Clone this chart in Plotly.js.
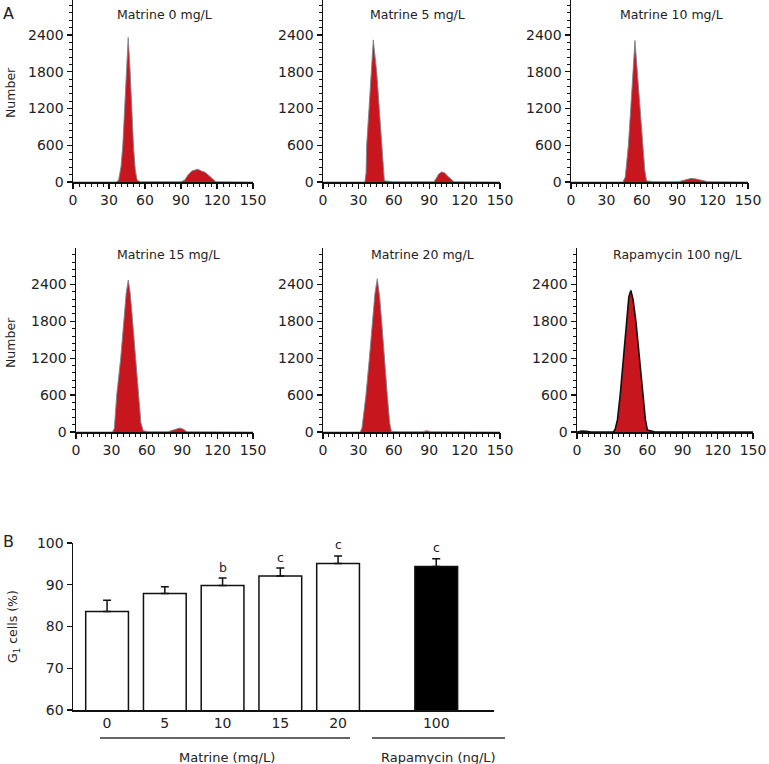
<!DOCTYPE html>
<html>
<head>
<meta charset="utf-8">
<script src="https://cdn.plot.ly/plotly-3.0.1.min.js"></script>
<style>html,body{margin:0;padding:0;background:#fff}#chart{width:769px;height:764px}</style>
</head>
<body>
<div id="chart"></div>
<script>
// ---------- Panel A: DNA content histograms ----------
const panelTitles = ["Matrine 0 mg/L", "Matrine 5 mg/L", "Matrine 10 mg/L",
                     "Matrine 15 mg/L", "Matrine 20 mg/L", "Rapamycin 100 ng/L"];

const m0X  = [0, 36, 38, 40, 41.5, 43, 44.5, 46, 47.5, 49, 50.5, 52, 53.5, 56, 90, 93, 96, 99, 102, 104, 107, 110, 113, 116, 119, 150];
const m0Y  = [0, 0, 30, 250, 600, 1250, 1900, 2360, 1850, 1200, 550, 180, 30, 5, 5, 30, 120, 180, 205, 210, 180, 160, 110, 50, 5, 0];

const m5X  = [0, 35.5, 36.5, 37, 39, 40.7, 42.6, 45.5, 47.8, 49.7, 51, 52, 60, 94, 96, 98, 100.5, 103, 106, 109, 111, 150];
const m5Y  = [0, 0, 150, 600, 1200, 1800, 2320, 1800, 1200, 600, 200, 20, 5, 5, 60, 130, 165, 150, 90, 30, 5, 0];

const m10X = [0, 44, 46, 48.6, 50.6, 52.3, 54.2, 56.2, 58.5, 60.8, 62.5, 64, 70, 91, 95, 99, 102, 106, 110, 116, 150];
const m10Y = [0, 0, 80, 600, 1200, 1800, 2310, 1800, 1200, 600, 200, 20, 5, 5, 25, 50, 60, 50, 30, 5, 0];

const m15X = [0, 31, 32.5, 34.5, 37.9, 40.7, 42.5, 44.3, 46, 48, 50.6, 52.8, 55, 57, 62, 78, 82, 86, 88, 91, 94, 150];
const m15Y = [0, 0, 60, 600, 1200, 1800, 2250, 2470, 2250, 1800, 1200, 600, 150, 20, 5, 5, 30, 60, 65, 45, 5, 0];

const m20X = [0, 31.5, 33, 36.4, 39.3, 41.8, 44, 46, 48, 49.7, 51.9, 54.5, 56.5, 58, 65, 84, 88, 92, 150];
const m20Y = [0, 0, 60, 600, 1200, 1800, 2250, 2490, 2200, 1800, 1200, 600, 150, 10, 5, 5, 20, 5, 0];

const rapX = [0, 4, 8, 12, 31, 32.5, 34.5, 36.8, 39.6, 42.5, 44.2, 45.9, 47.8, 50.2, 53.2, 56.2, 58.3, 60, 66, 150];
const rapY = [0, 15, 10, 0, 0, 40, 200, 600, 1200, 1800, 2200, 2300, 2150, 1800, 1200, 600, 200, 30, 5, 0];

const histX = [m0X, m5X, m10X, m15X, m20X, rapX];
const histY = [m0Y, m5Y, m10Y, m15Y, m20Y, rapY];

const histXStep = 30, histXMinorStep = 5;
const histYStep = 600, histYMinorStep = 120;

// ---------- Panel B: G1 cells (%) ----------
const matrineDoses = ["0", "5", "10", "15", "20"];
const rapaDoses = ["100"];
const g1Mean = [83.6, 87.9, 89.8, 92.1, 95.1, 94.4];
const g1Err  = [2.7, 1.6, 1.8, 1.9, 1.8, 1.8];
const sigLetters = ["", "", "b", "c", "c", "c"];
const groupNames = ["Matrine (mg/L)", "Rapamycin (ng/L)"];

// ---------- layout helpers ----------
const W = 769, H = 764;
const px = v => v / W;
const py = v => 1 - v / H;
const FONT = "DejaVu Sans, Arial, sans-serif";
const RED = "#c8161e";
const TICKFONT = {family: FONT, size: 14, color: "#222"};

// panel pixel boxes [left, right, bottom(zero), top]
const boxes = [
  [73, 253, 182, 0], [323, 500, 182, 0], [571, 748, 182, 0],
  [76, 253, 432, 248], [323, 500, 432, 248], [577, 753, 432, 248]
];
const titlePos = [[164, 14], [417, 14], [671, 14], [168, 255], [422, 255], [677, 255]];

const traces = [];
const layout = {
  width: W, height: H,
  margin: {l: 0, r: 0, t: 0, b: 0},
  paper_bgcolor: "#fff", plot_bgcolor: "rgba(0,0,0,0)",
  showlegend: false,
  font: {family: FONT, size: 13, color: "#222"},
  annotations: [], shapes: []
};

for (let i = 0; i < 6; i++) {
  const n = i + 1;
  const xa = "x" + n, ya = "y" + n;
  const isRapa = i === 5;
  traces.push({
    type: "scatter", mode: "lines",
    x: histX[i], y: histY[i],
    xaxis: xa, yaxis: ya,
    fill: "tozeroy", fillcolor: RED,
    line: {color: isRapa ? "#111" : "#7d858e", width: isRapa ? 1.6 : 0.9}
  });
  const b = boxes[i];
  const yTopVal = Math.min(2990, (b[2] - b[3]) / 147 * 2400);
  const common = {showgrid: false, zeroline: false, fixedrange: true, tickcolor: "#111"};
  layout["xaxis" + n] = Object.assign({
    domain: [px(b[0]), px(b[1])], anchor: ya,
    range: [0, 150], tickmode: "linear", tick0: 0, dtick: histXStep,
    ticks: "outside", ticklen: 5, tickwidth: 1.2,
    showline: true, linecolor: "#111", linewidth: 1.5,
    tickfont: TICKFONT
  }, common);
  layout["yaxis" + n] = Object.assign({
    domain: [py(b[2]), Math.min(1, py(b[3]))], anchor: xa,
    range: [0, yTopVal], tickmode: "linear", tick0: 0, dtick: histYStep,
    ticks: "outside", ticklen: 5, tickwidth: 1.2,
    showline: true, linecolor: "#111", linewidth: 1.5,
    tickfont: TICKFONT
  }, common);
  // minor-tick overlay axes
  const mx = 10 + n, my = 10 + n;
  layout["xaxis" + mx] = Object.assign({
    overlaying: xa, anchor: ya, range: [0, 150], tickmode: "linear", tick0: 0, dtick: histXMinorStep,
    ticks: "outside", ticklen: 3.5, tickwidth: 1, showticklabels: false, showline: false
  }, common);
  layout["yaxis" + my] = Object.assign({
    overlaying: ya, anchor: xa, range: [0, yTopVal], tickmode: "linear", tick0: 0, dtick: histYMinorStep,
    ticks: "outside", ticklen: 3.5, tickwidth: 1, showticklabels: false, showline: false
  }, common);
  traces.push({type: "scatter", mode: "lines", x: [], y: [], xaxis: "x" + mx, yaxis: "y" + my,
               hoverinfo: "skip", showlegend: false});
  layout.annotations.push({
    xref: "paper", yref: "paper", x: px(titlePos[i][0]), y: py(titlePos[i][1]),
    xanchor: "center", yanchor: "middle", showarrow: false,
    text: panelTitles[i], font: {family: FONT, size: 12.5, color: "#222"}
  });
}

// "Number" axis labels
[[10, 93], [10, 343]].forEach(p => layout.annotations.push({
  xref: "paper", yref: "paper", x: px(p[0]), y: py(p[1]), textangle: -90,
  xanchor: "center", yanchor: "middle", showarrow: false,
  text: "Number", font: {family: FONT, size: 12.5, color: "#222"}
}));

// Panel letters
layout.annotations.push({xref: "paper", yref: "paper", x: px(8), y: py(13), showarrow: false,
  xanchor: "center", yanchor: "middle", text: "A", font: {family: FONT, size: 16, color: "#222"}});
layout.annotations.push({xref: "paper", yref: "paper", x: px(8), y: py(541), showarrow: false,
  xanchor: "center", yanchor: "middle", text: "B", font: {family: FONT, size: 16, color: "#222"}});

// ---------- bar chart ----------
const groupGap = 0.7;
const barLabels = matrineDoses.concat(rapaDoses);
const barPos = barLabels.map((_, i) => i < matrineDoses.length ? i : i + groupGap);
traces.push({
  type: "bar", x: barPos, y: g1Mean, base: 0, width: 0.74,
  xaxis: "x7", yaxis: "y7",
  marker: {color: barPos.map((_, i) => i < matrineDoses.length ? "#fff" : "#000"),
           line: {color: "#111", width: 1.5}},
  error_y: {type: "data", symmetric: false, array: g1Err, arrayminus: g1Err.map(() => 0),
            color: "#111", thickness: 1.5, width: 4}
});
layout.xaxis7 = {
  domain: [px(73), px(494)], anchor: "y7",
  range: [-0.59, 6.70], tickvals: barPos, ticktext: barLabels,
  ticks: "", showline: true, linecolor: "#111", linewidth: 1.5,
  showgrid: false, zeroline: false, fixedrange: true,
  tickfont: TICKFONT
};
layout.yaxis7 = {
  domain: [py(710), py(543)], anchor: "x7",
  range: [60, 100], dtick: 10, tick0: 60,
  ticks: "outside", ticklen: 5, tickwidth: 1.2, tickcolor: "#111",
  showline: true, linecolor: "#111", linewidth: 1.5,
  showgrid: false, zeroline: false, fixedrange: true,
  tickfont: TICKFONT
};
barPos.forEach((p, i) => {
  if (!sigLetters[i]) return;
  layout.annotations.push({
    xref: "x7", yref: "y7", x: p, y: g1Mean[i] + g1Err[i], yshift: 11,
    xanchor: "center", yanchor: "middle", showarrow: false,
    text: sigLetters[i], font: {family: FONT, size: 12.5, color: "#222"}
  });
});
layout.annotations.push({
  xref: "paper", yref: "paper", x: px(13), y: py(627), textangle: -90,
  xanchor: "center", yanchor: "middle", showarrow: false,
  text: "G<sub>1</sub> cells (%)", font: {family: FONT, size: 12.5, color: "#222"}
});
// group brackets
const groupLines = [[100, 350, 227], [372, 505, 439]];
groupLines.forEach((g, i) => {
  layout.shapes.push({type: "line", xref: "paper", yref: "paper",
    x0: px(g[0]), x1: px(g[1]), y0: py(738), y1: py(738),
    line: {color: "#333", width: 1.5}});
  layout.annotations.push({xref: "paper", yref: "paper", x: px(g[2]), y: py(757),
    xanchor: "center", yanchor: "middle", showarrow: false,
    text: groupNames[i], font: {family: FONT, size: 13, color: "#222"}});
});

Plotly.newPlot("chart", traces, layout, {staticPlot: true, displayModeBar: false});
</script>
</body>
</html>
